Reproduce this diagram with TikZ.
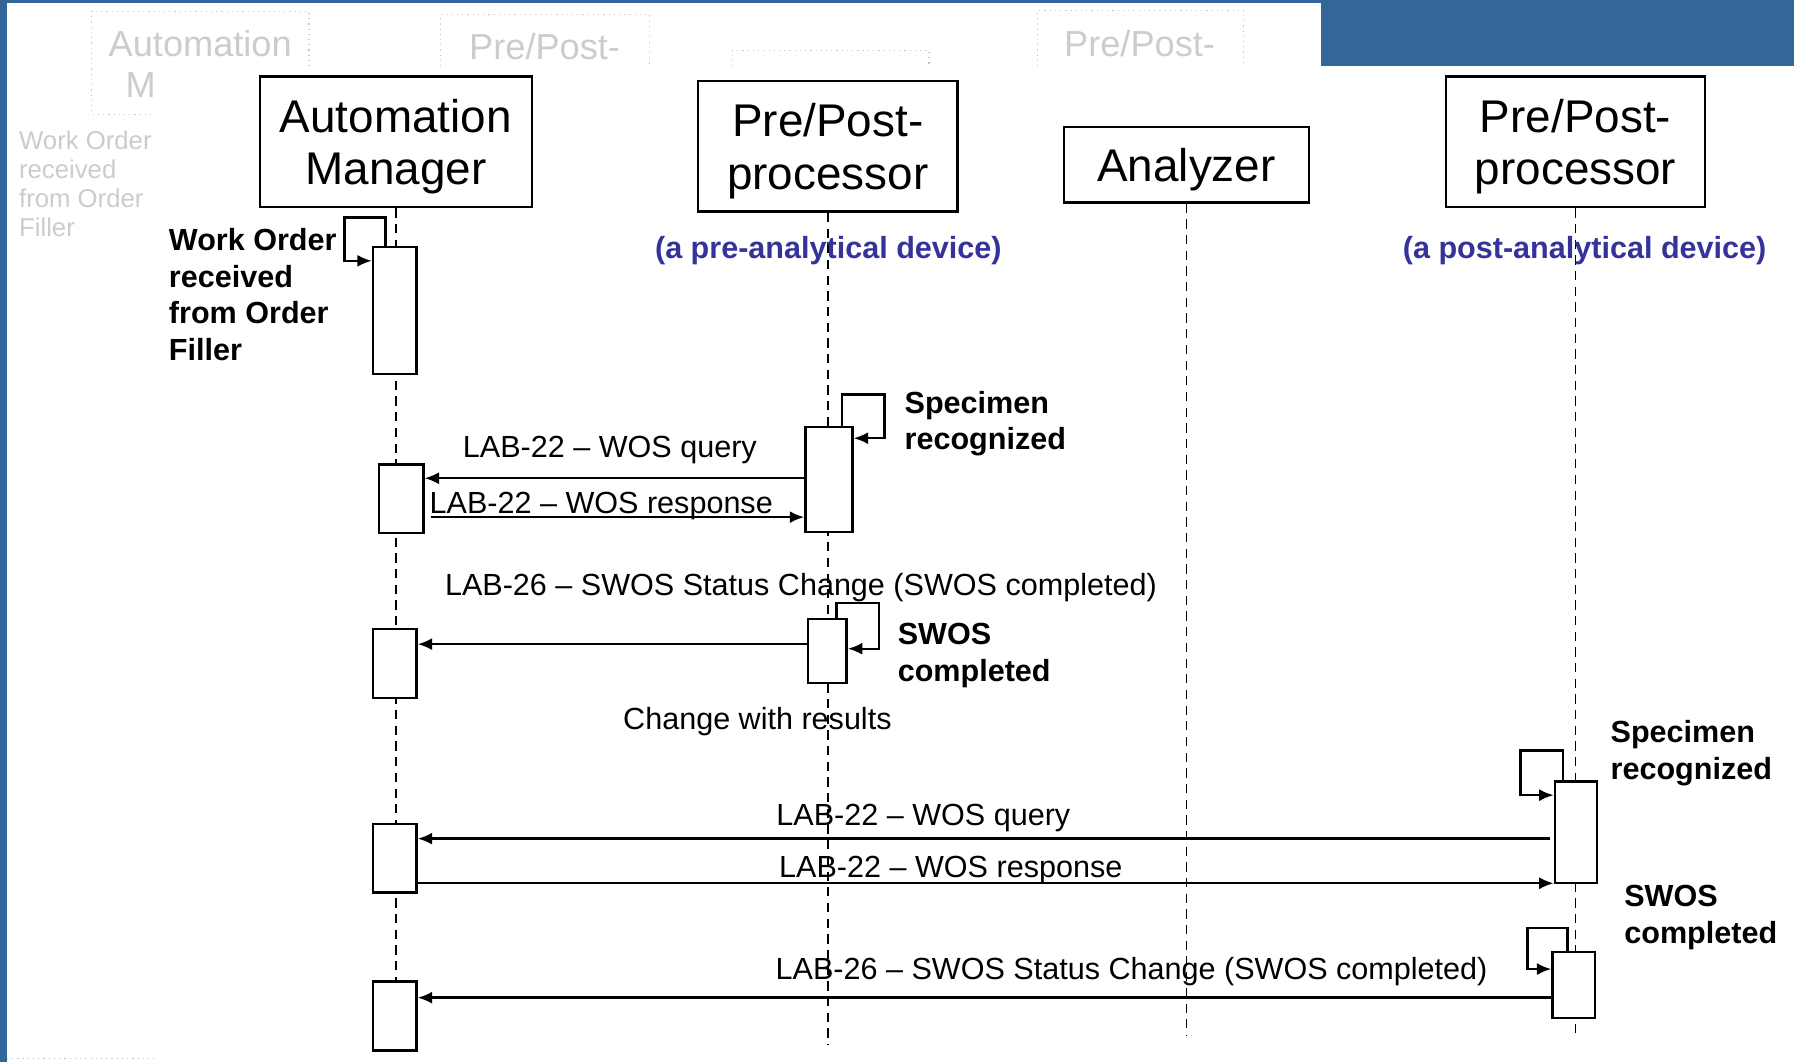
\documentclass[tikz,border=0pt]{standalone}
\usepackage{fontspec}
\setmainfont{Liberation Sans}
\usetikzlibrary{arrows.meta}

\definecolor{frameblue}{HTML}{336699}
\definecolor{devblue}{HTML}{333399}

\tikzset{
  actor/.style={draw, fill=white, line width=0.6pt, align=center, inner sep=0pt, text depth=0pt, font=\fontsize{11.4}{13}\selectfont},
  act/.style={draw, fill=white, line width=0.6pt, inner sep=0pt, minimum width=0.38cm},
  life/.style={line width=0.45pt, dash pattern=on 2.3pt off 1.6pt},
  msg/.style={line width=0.6pt, -{Latex[length=3.6pt,width=3pt]}},
  msgtxt/.style={inner sep=0pt, font=\fontsize{7.6}{9.1}\selectfont},
  note/.style={inner sep=0pt, align=left, anchor=north west, font=\bfseries\fontsize{7.6}{9.1}\selectfont},
  devtxt/.style={inner sep=0pt, text=devblue, font=\bfseries\fontsize{7.6}{9.1}\selectfont},
  ghost/.style={gray!45, line width=0.3pt, densely dotted},
  ghosttxt/.style={inner sep=0pt, text=gray!40},
}

\begin{document}
\begin{tikzpicture}
				% Page and blue frame
				\fill[white] (0,0) rectangle (15.68,-9.28);
				\useasboundingbox (0,0) rectangle (15.68,-9.28);
				\fill[frameblue] (0,0) rectangle (0.06,-9.28);
				\fill[frameblue] (0,0) rectangle (15.68,-0.03);
				\fill[frameblue] (11.55,0) rectangle (15.68,-0.58);
				
				% Faded leftovers of the old slide
				\draw[ghost] (2.70,-0.58) -- (2.70,-0.10) -- (0.80,-0.10) -- (0.80,-1.00) -- (1.32,-1.00);
				\draw[ghost] (3.85,-0.58) -- (3.85,-0.13) -- (5.68,-0.13) -- (5.68,-0.58);
				\draw[ghost] (6.40,-0.58) -- (6.40,-0.44) -- (8.12,-0.44) -- (8.12,-0.58);
				\draw[ghost] (9.07,-0.58) -- (9.07,-0.09) -- (10.87,-0.09) -- (10.87,-0.58);
				\draw[ghost, frameblue!40] (0.06,-9.25) -- (1.34,-9.25);
				\node[ghosttxt, font=\fontsize{9}{10.8}\selectfont] (gam) at (1.75,-0.38) {Automation};
				\node[ghosttxt, font=\fontsize{9}{10.8}\selectfont] (gm) at (1.23,-0.74) {M};
				\node[ghosttxt, font=\fontsize{9}{10.8}\selectfont] (gpp1) at (4.76,-0.41) {Pre/Post-};
				\node[ghosttxt, font=\fontsize{9}{10.8}\selectfont] (gpp2) at (9.96,-0.38) {Pre/Post-};
				\node[ghosttxt, align=left, anchor=north west, font=\fontsize{6.4}{7.2}\selectfont] (gwo) at (0.16,-1.14) {Work Order\\received\\from Order\\Filler};
				
				% Actors
				\node[actor, minimum width=2.38cm, minimum height=1.14cm] (am) at (3.46,-1.24) {Automation\\Manager};
				\node[actor, minimum width=2.27cm, minimum height=1.14cm] (pp1) at (7.235,-1.28) {Pre/Post-\\processor};
				\node[actor, minimum width=2.14cm, minimum height=0.66cm] (an) at (10.37,-1.44) {Analyzer};
				\node[actor, minimum width=2.26cm, minimum height=1.14cm] (pp2) at (13.77,-1.24) {Pre/Post-\\processor};
				
				% Lifelines
				\draw[life] (am.south) -- (am.south |- 0,-9.13);
				\draw[life] (pp1.south) -- (pp1.south |- 0,-9.13);
				\draw[life] (an.south) -- (an.south |- 0,-9.05);
				\draw[life] (pp2.south) -- (pp2.south |- 0,-9.08);
				
				% Device captions
				\node[devtxt] (pre) at (7.24,-2.19) {(a pre-analytical device)};
				\node[devtxt] (post) at (13.85,-2.19) {(a post-analytical device)};
				
				% Activation bars
				\node[act, minimum height=1.11cm] (am1) at (3.45,-2.715) {};
				\node[act, minimum width=0.39cm, minimum height=0.60cm] (am2) at (3.505,-4.36) {};
				\node[act, minimum height=0.60cm] (am3) at (3.45,-5.80) {};
				\node[act, minimum height=0.60cm] (am4) at (3.45,-7.50) {};
				\node[act, minimum height=0.60cm] (am5) at (3.45,-8.88) {};
				\node[act, minimum width=0.41cm, minimum height=0.92cm] (pp1a) at (7.245,-4.19) {};
				\node[act, minimum width=0.34cm, minimum height=0.56cm] (pp1b) at (7.23,-5.69) {};
				\node[act, minimum width=0.37cm, minimum height=0.89cm] (pp2a) at (13.775,-7.275) {};
				\node[act, minimum width=0.37cm, minimum height=0.58cm] (pp2b) at (13.755,-8.61) {};
				
				% Self calls
				\draw[msg] ([xshift=-0.8mm]am1.north) |- ++(-0.36,0.25) |- (am1.west |- 0,-2.28);
				\draw[msg] ([xshift=1.15mm]pp1a.north) |- ++(0.37,0.27) |- (pp1a.east |- 0,-3.83);
				\draw[msg] ([xshift=0.8mm]pp1b.north) |- ++(0.37,0.13) |- (pp1b.east |- 0,-5.67);
				\draw[msg] ([xshift=-1.15mm]pp2a.north) |- ++(-0.37,0.26) |- (pp2a.west |- 0,-6.95);
				\draw[msg] ([xshift=-0.55mm]pp2b.north) |- ++(-0.35,0.20) |- (pp2b.west |- 0,-8.47);
				
				% Notes
				\node[note] (wo) at (1.47,-1.99) {Work Order\\received\\from Order\\Filler};
				\node[note] (sr1) at (7.90,-3.41) {Specimen\\recognized};
				\node[note] (sc1) at (7.84,-5.44) {SWOS\\completed};
				\node[note] (sr2) at (14.07,-6.29) {Specimen\\recognized};
				\node[note] (sc2) at (14.19,-7.73) {SWOS\\completed};
				
				% Messages with the pre-processor
				\draw[msg] (pp1a.west |- 0,-4.18) -- (am2.east |- 0,-4.18);
				\node[msgtxt] (q1) at (5.33,-3.93) {LAB-22 -- WOS query};
				\draw[msg] ([xshift=0.6mm]am2.east |- 0,-4.52) -- (pp1a.west |- 0,-4.52);
				\node[msgtxt] (r1) at (5.255,-4.42) {LAB-22 -- WOS response};
				\draw[msg] (pp1b.west |- 0,-5.63) -- (am3.east |- 0,-5.63);
				\node[msgtxt] (s1) at (7.00,-5.14) {LAB-26 -- SWOS Status Change (SWOS completed)};
				\node[msgtxt] (cr) at (6.62,-6.31) {Change with results};
				
				% Messages with the post-processor
				\draw[msg] ([xshift=-0.3mm]pp2a.west |- 0,-7.33) -- (am4.east |- 0,-7.33);
				\node[msgtxt] (q2) at (8.07,-7.15) {LAB-22 -- WOS query};
				\draw[msg] (am4.east |- 0,-7.72) -- (pp2a.west |- 0,-7.72);
				\node[msgtxt] (r2) at (8.31,-7.60) {LAB-22 -- WOS response};
				\draw[msg] (pp2b.west |- 0,-8.72) -- (am5.east |- 0,-8.72);
				\node[msgtxt] (s2) at (9.89,-8.49) {LAB-26 -- SWOS Status Change (SWOS completed)};
			\end{tikzpicture}
\end{document}
